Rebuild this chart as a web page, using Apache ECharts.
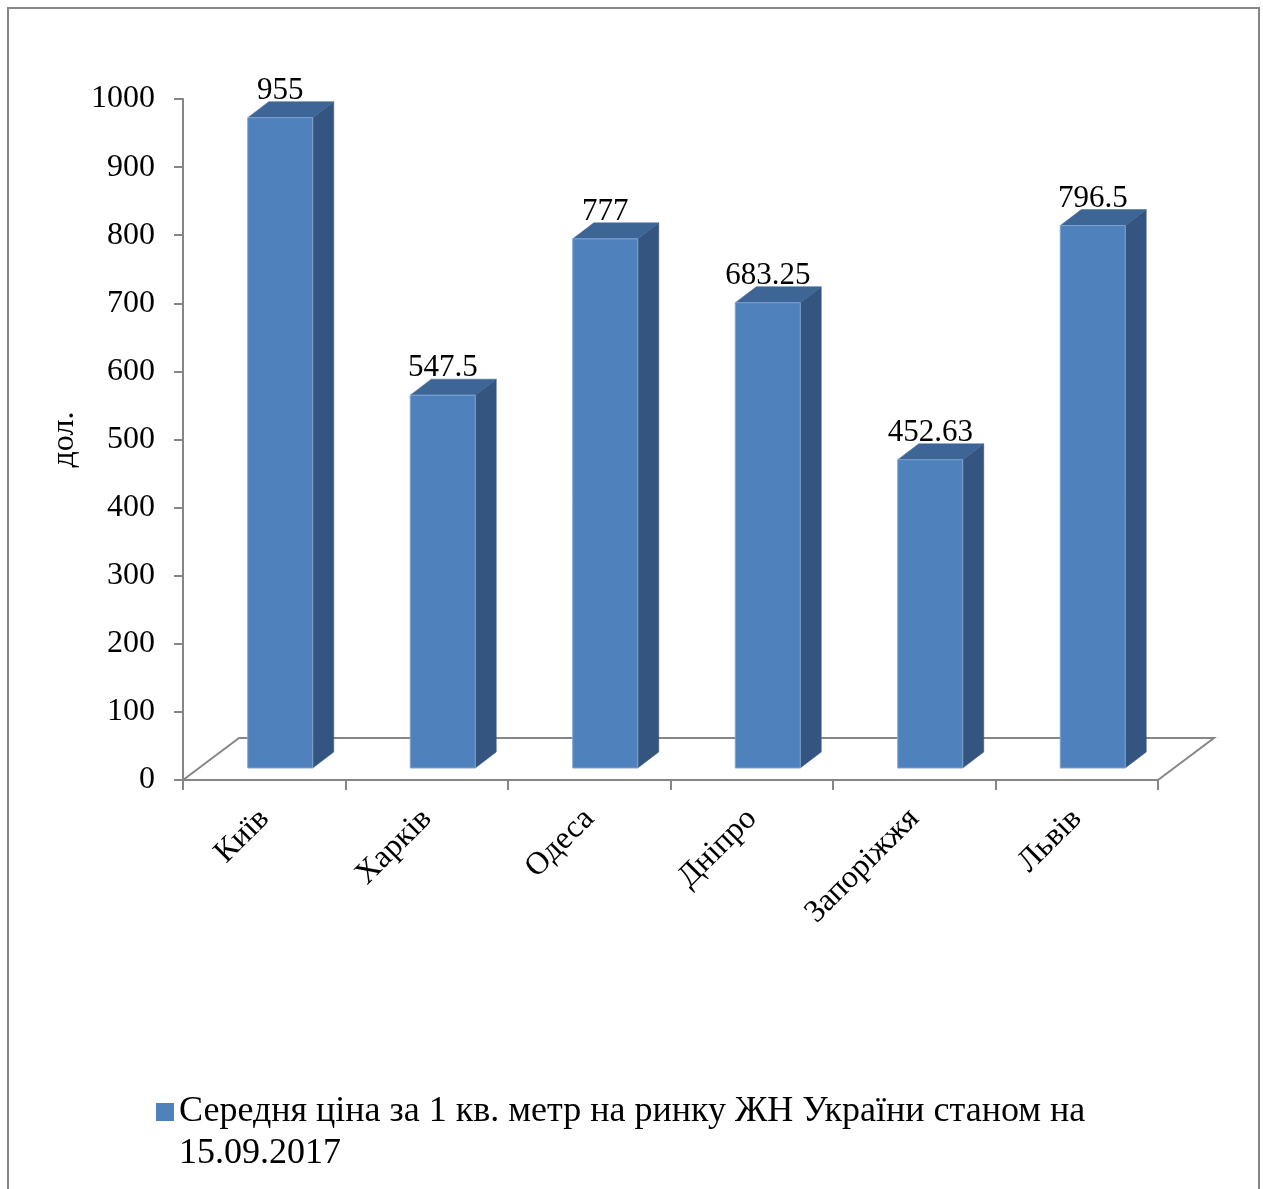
<!DOCTYPE html>
<html>
<head>
<meta charset="utf-8">
<script src="https://cdn.jsdelivr.net/npm/echarts@6/dist/echarts.min.js"></script>
<style>
html,body{margin:0;padding:0;background:#fff;}
#chart{width:1263px;height:1189px;}
</style>
</head>
<body>
<div id="chart"></div>
<script>
const categories = ['Київ', 'Харків', 'Одеса', 'Дніпро', 'Запоріжжя', 'Львів'];
const values = [955, 547.5, 777, 683.25, 452.63, 796.5];
const yTicks = [0, 100, 200, 300, 400, 500, 600, 700, 800, 900, 1000];
const seriesName = 'Середня ціна за 1 кв. метр на ринку ЖН України станом на 15.09.2017';
const yName = 'дол.';

const FONT = '"Liberation Serif", "Times New Roman", serif';
const FRONT = '#4f81bd', SIDE = '#34557f', TOP = '#3d6696';
const AXIS = '#868686';
// 3D geometry (pixels)
const FLOOR_DX = 56, FLOOR_DY = 42;
const FACE_DX = 16, FACE_DY = 12;
const BAR_DX = 21, BAR_DY = 16;

const chart = echarts.init(document.getElementById('chart'));

function renderBar(params, api) {
  const i = api.value(0), v = api.value(1);
  const base = api.coord([i, 0]);
  const top = api.coord([i, v]);
  const cw = api.size([1, 0])[0];
  const bw = cw * 0.4;
  const x0 = base[0] + FACE_DX - bw / 2, x1 = x0 + bw;
  const yb = base[1] - FACE_DY, yt = top[1] - FACE_DY;
  return {
    type: 'group',
    children: [
      { type: 'polygon', shape: { points: [[x1, yb], [x1 + BAR_DX, yb - BAR_DY], [x1 + BAR_DX, yt - BAR_DY], [x1, yt]] },
        style: { fill: SIDE, stroke: SIDE, lineWidth: 0.5 } },
      { type: 'polygon', shape: { points: [[x0, yt], [x1, yt], [x1 + BAR_DX, yt - BAR_DY], [x0 + BAR_DX, yt - BAR_DY]] },
        style: { fill: TOP, stroke: TOP, lineWidth: 0.5 } },
      { type: 'rect', shape: { x: x0, y: yt, width: bw, height: yb - yt },
        style: { fill: FRONT, stroke: '#7ea3d2', lineWidth: 1 } },
      { type: 'text', x: x0 + bw / 2, y: yt - 27,
        style: { text: String(v), fill: '#000', font: '31px ' + FONT, align: 'center', verticalAlign: 'middle' } }
    ]
  };
}

function renderFloor(params, api) {
  const cs = params.coordSys;
  const fx = cs.x, fy = cs.y + cs.height, fr = cs.x + cs.width;
  return {
    type: 'polyline',
    shape: { points: [[fx, fy], [fx + FLOOR_DX, fy - FLOOR_DY], [fr + FLOOR_DX, fy - FLOOR_DY], [fr, fy]] },
    style: { fill: null, stroke: AXIS, lineWidth: 2 }
  };
}

chart.setOption({
  backgroundColor: '#fff',
  animation: false,
  graphic: [{
    type: 'rect', left: 7, top: 7, z: -10,
    shape: { x: 0, y: 0, width: 1251, height: 1220 },
    style: { fill: '#fff', stroke: AXIS, lineWidth: 2 }
  }],
  grid: { left: 183, right: 105, top: 99, bottom: 409 },
  legend: {
    data: [seriesName],
    left: 151, top: 1044,
    icon: 'rect', itemWidth: 18, itemHeight: 18,
    formatter: function (name) { return '\n' + name.replace(' 15.09.2017', '\n15.09.2017'); },
    textStyle: {
      fontFamily: FONT, fontSize: 36, color: '#000', lineHeight: 42
    }
  },
  xAxis: {
    type: 'category',
    data: categories,
    axisLine: { show: true, lineStyle: { color: AXIS, width: 2 } },
    axisTick: { show: true, length: 10, lineStyle: { color: AXIS, width: 2 } },
    axisLabel: { rotate: 45, margin: 34, fontFamily: FONT, fontSize: 32, color: '#000', interval: 0 },
    splitLine: { show: false }
  },
  yAxis: {
    type: 'value',
    min: yTicks[0], max: yTicks[yTicks.length - 1], interval: yTicks[1] - yTicks[0],
    name: yName, nameLocation: 'middle', nameGap: 98, nameRotate: 90,
    nameTextStyle: { fontFamily: FONT, fontSize: 32, color: '#000' },
    axisLine: { show: true, lineStyle: { color: AXIS, width: 2 } },
    axisTick: { show: true, length: 9, lineStyle: { color: AXIS, width: 2 } },
    axisLabel: { margin: 28, fontFamily: FONT, fontSize: 32, color: '#000', formatter: function (v) { return String(v); } },
    splitLine: { show: false }
  },
  series: [
    {
      name: 'floor', type: 'custom', renderItem: renderFloor,
      data: [[0, 0]], silent: true, z: 1
    },
    {
      name: seriesName, type: 'custom', renderItem: renderBar,
      itemStyle: { color: FRONT },
      encode: { x: 0, y: 1 },
      data: categories.map((c, i) => [i, values[i]]),
      z: 2
    }
  ]
});
</script>
</body>
</html>
